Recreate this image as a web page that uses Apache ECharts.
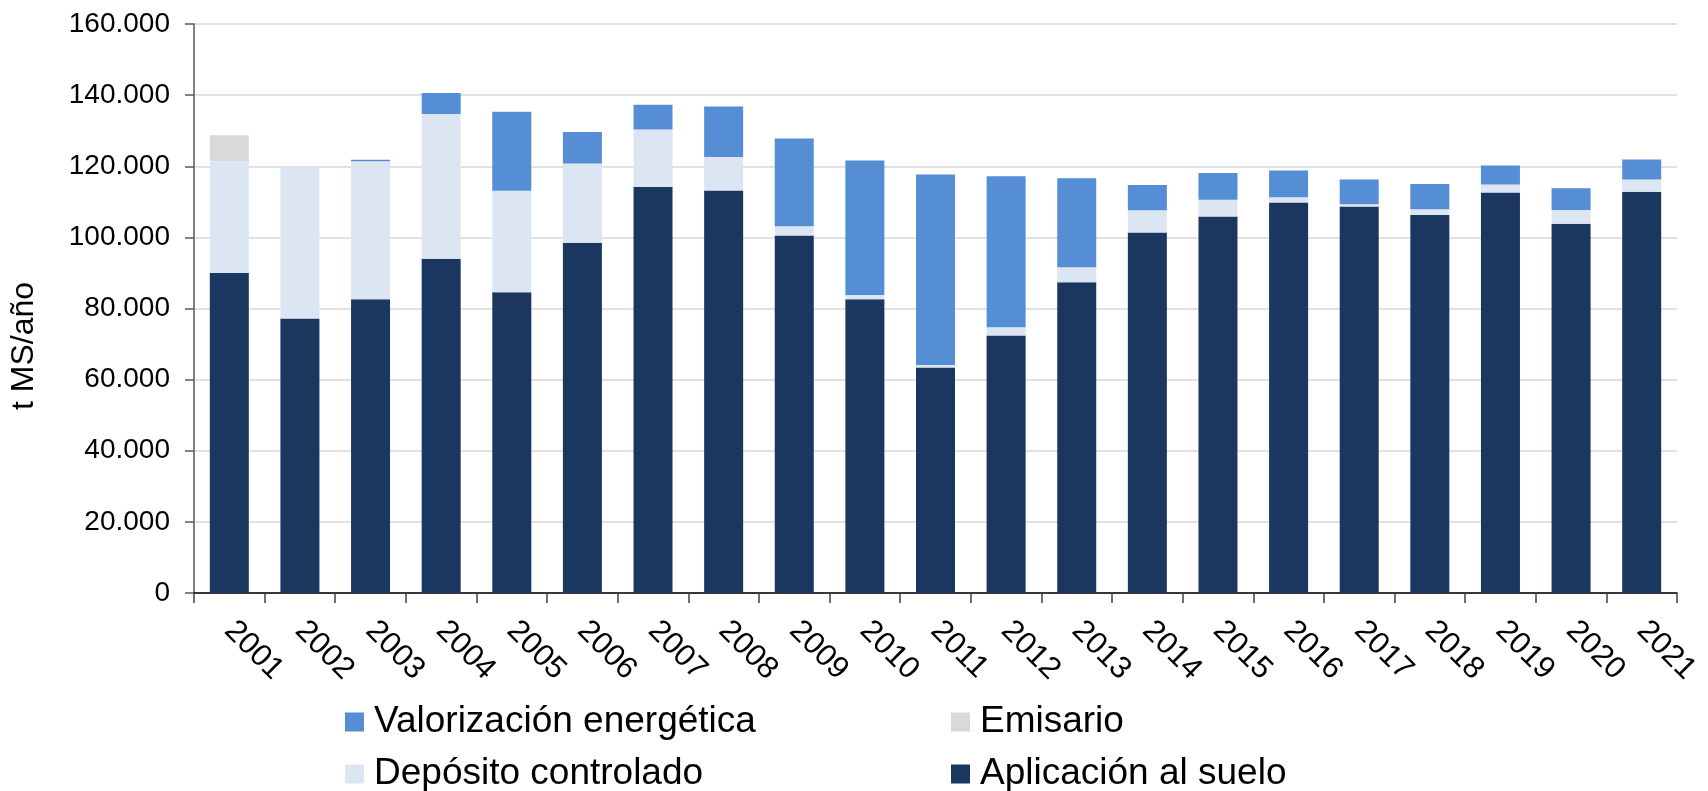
<!DOCTYPE html>
<html>
<head>
<meta charset="utf-8">
<script src="https://cdn.jsdelivr.net/npm/echarts@6/dist/echarts.min.js"></script>
<style>
html,body{margin:0;padding:0;background:#fff;}
#chart{width:1708px;height:791px;}
</style>
</head>
<body>
<div id="chart"></div>
<script>
const years = ['2001','2002','2003','2004','2005','2006','2007','2008','2009','2010','2011','2012','2013','2014','2015','2016','2017','2018','2019','2020','2021'];
const aplicacion = [90000,77200,82600,94000,84600,98500,114200,113200,100500,82600,63400,72400,87400,101400,105900,109800,108700,106300,112600,103800,112800];
const deposito = [31400,42300,38800,40700,28500,22300,16100,9400,2600,1200,700,2300,4200,6200,4700,1500,600,1600,2300,3900,3500];
const emisario = [7300,0,0,0,0,0,0,0,0,0,0,0,0,0,0,0,0,0,0,0,0];
const valorizacion = [0,0,400,5900,22200,8800,7000,14200,24700,37800,53600,42500,25000,7100,7500,7500,7000,7100,5300,6100,5600];
const yTicks = [0,20000,40000,60000,80000,100000,120000,140000,160000];

const FONT = '"Liberation Sans", Arial, sans-serif';
const fmt = v => String(v).replace(/\B(?=(\d{3})+(?!\d))/g, '.');

const chart = echarts.init(document.getElementById('chart'), null, {renderer:'canvas'});
const barW = 39;
function bar(name, data, color){
  return {name, type:'bar', stack:'total', data, barWidth:barW, itemStyle:{color}, emphasis:{disabled:true}};
}
const legendText = {fontSize:37, color:'#000', fontFamily:FONT, lineHeight:38, padding:[0,0,0,5]};
chart.setOption({
  animation:false,
  backgroundColor:'#ffffff',
  textStyle:{fontFamily:FONT},
  grid:{left:194, right:31, top:24, bottom:198, containLabel:false},
  xAxis:{
    type:'category', data:years,
    axisLine:{lineStyle:{color:'#000000', width:1.5}},
    axisTick:{show:true, alignWithLabel:false, length:10, lineStyle:{color:'#404040', width:1.5}},
    axisLabel:{rotate:-45, fontSize:31, color:'#000', fontFamily:FONT, margin:33, interval:0}
  },
  yAxis:{
    type:'value', min:yTicks[0], max:yTicks[yTicks.length-1], interval:20000,
    axisLine:{show:true, lineStyle:{color:'#595959', width:1.5}},
    axisTick:{show:true, length:9, lineStyle:{color:'#595959', width:1.5}},
    axisLabel:{fontSize:28, color:'#000', fontFamily:FONT, margin:24, formatter:fmt},
    splitLine:{lineStyle:{color:'#D9D9D9', width:1.5}}
  },
  legend:[
    {data:['Valorización energética','Depósito controlado'], orient:'vertical', left:345, top:703, height:110,
     itemWidth:19, itemHeight:19, itemGap:14, icon:'rect', selectedMode:false, padding:0,
     textStyle:legendText},
    {data:['Emisario','Aplicación al suelo'], orient:'vertical', left:951, top:703, height:110,
     itemWidth:19, itemHeight:19, itemGap:14, icon:'rect', selectedMode:false, padding:0,
     textStyle:legendText}
  ],
  graphic:[{
    type:'text', x:24, y:346, rotation:Math.PI/2,
    style:{text:'t MS/año', font:'32px "Liberation Sans", Arial, sans-serif', fill:'#000', align:'center', verticalAlign:'middle'}
  }],
  series:[
    bar('Aplicación al suelo', aplicacion, '#1B375F'),
    bar('Depósito controlado', deposito, '#DCE6F2'),
    bar('Emisario', emisario, '#D9D9D9'),
    bar('Valorización energética', valorizacion, '#558ED5')
  ]
});
</script>
</body>
</html>
